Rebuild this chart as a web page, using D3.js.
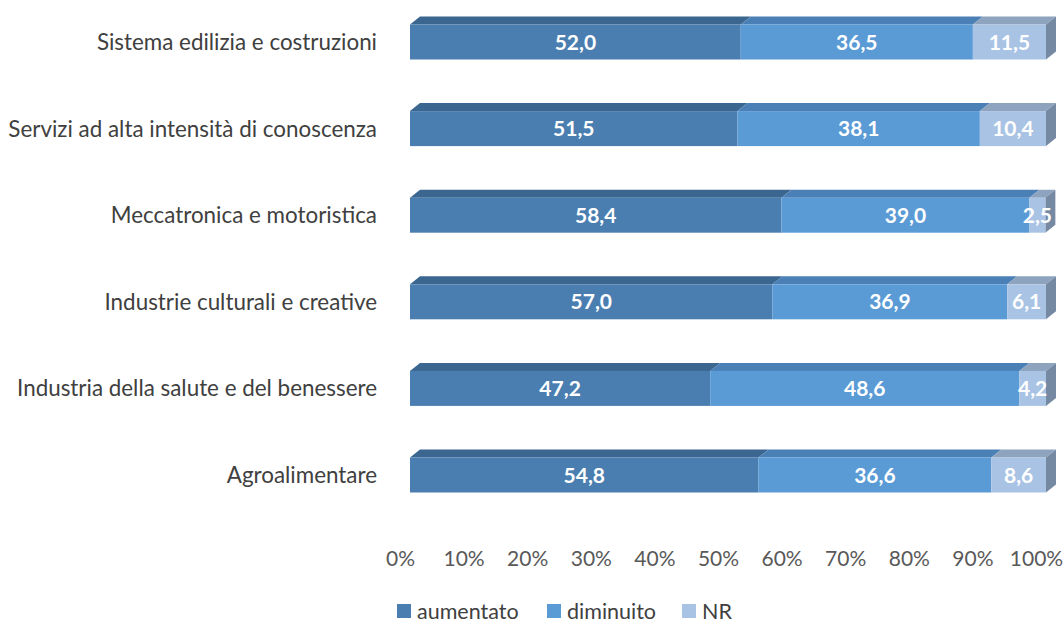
<!DOCTYPE html>
<html>
<head>
<meta charset="utf-8">
<script src="https://cdn.jsdelivr.net/npm/d3@7"></script>
<style>
  html, body { margin: 0; padding: 0; background: #ffffff; }
  svg { display: block; }
</style>
</head>
<body>
<svg id="chart" width="1064" height="624"></svg>
<script>
// Sectors, top to bottom
const categories = [
  "Sistema edilizia e costruzioni",
  "Servizi ad alta intensità di conoscenza",
  "Meccatronica e motoristica",
  "Industrie culturali e creative",
  "Industria della salute e del benessere",
  "Agroalimentare"
];
const seriesNames = ["aumentato", "diminuito", "NR"];
const aumentato = [52.0, 51.5, 58.4, 57.0, 47.2, 54.8];
const diminuito = [36.5, 38.1, 39.0, 36.9, 48.6, 36.6];
const nr        = [11.5, 10.4, 2.5, 6.1, 4.2, 8.6];
const tickValues = [0, 10, 20, 30, 40, 50, 60, 70, 80, 90, 100];

const frontColors = ["#4a7eb1", "#5a9ad5", "#a9c3e5"];
const topColors   = ["#3b6690", "#4b80b6", "#8ea3be"];
const sideColor   = "#7689a2";

const svg = d3.select("#chart");
const fontFam = "Lato, 'Open Sans', sans-serif";

const x = d3.scaleLinear().domain([0, 100]).range([410, 1046]);
const y = d3.scalePoint().domain(categories).range([42, 475]);
const barH = 35;
const dx = 10, dy = 8;

const rows = categories.map((c, i) => {
  const vals = [aumentato[i], diminuito[i], nr[i]];
  let acc = 0;
  return { cat: c, segs: vals.map((v, k) => { const s = { k, v, x0: acc, x1: acc + v }; acc += v; return s; }) };
});

const rowG = svg.selectAll("g.row").data(rows).join("g").attr("class", "row");

rowG.each(function(r) {
  const g = d3.select(this);
  const cy = y(r.cat);
  const yt = cy - barH / 2;
  const last = r.segs[r.segs.length - 1];
  // top faces
  g.selectAll("polygon.topface").data(r.segs).join("polygon")
    .attr("class", "topface")
    .attr("fill", d => topColors[d.k])
    .attr("points", d => {
      const a = x(d.x0), b = x(d.x1);
      return [[a, yt], [a + dx, yt - dy], [b + dx, yt - dy], [b, yt]].map(p => p.join(",")).join(" ");
    });
  // right side face
  const b = x(last.x1);
  g.append("polygon")
    .attr("fill", sideColor)
    .attr("points", [[b, yt], [b + dx, yt - dy], [b + dx, yt - dy + barH], [b, yt + barH]].map(p => p.join(",")).join(" "));
  // front faces
  g.selectAll("rect.front").data(r.segs).join("rect")
    .attr("class", "front")
    .attr("x", d => x(d.x0))
    .attr("y", yt)
    .attr("width", d => x(d.x1) - x(d.x0))
    .attr("height", barH)
    .attr("fill", d => frontColors[d.k]);
  // value labels
  g.selectAll("text.val").data(r.segs).join("text")
    .attr("class", "val")
    .attr("x", d => (x(d.x0) + x(d.x1)) / 2)
    .attr("y", cy)
    .attr("dy", "0.36em")
    .attr("text-anchor", "middle")
    .attr("fill", "#ffffff")
    .attr("font-family", fontFam)
    .attr("font-weight", "bold")
    .attr("font-size", 21)
    .text(d => d3.format(".1f")(d.v).replace(".", ","));
  // category label
  g.append("text")
    .attr("x", 377)
    .attr("y", cy)
    .attr("dy", "0.36em")
    .attr("text-anchor", "end")
    .attr("fill", "#404040")
    .attr("font-family", fontFam)
    .attr("font-size", 22.4)
    .text(r.cat);
});

// x axis labels
const axisG = svg.append("g").attr("transform", "translate(-10,558)");
axisG.call(d3.axisBottom(x).tickValues(tickValues).tickFormat(d => d + "%").tickSize(0).tickPadding(0));
axisG.select(".domain").remove();
axisG.selectAll("text")
  .attr("fill", "#595959")
  .attr("font-family", fontFam)
  .attr("font-size", 21)
  .attr("dy", "0.36em")
  .attr("y", 0);

// legend
const legendX = [397, 547, 682];
const lg = svg.selectAll("g.leg").data(seriesNames).join("g")
  .attr("class", "leg")
  .attr("transform", (d, i) => `translate(${legendX[i]},604)`);
lg.append("rect").attr("width", 14).attr("height", 14).attr("fill", (d, i) => frontColors[i]);
lg.append("text")
  .attr("x", 20).attr("y", 7).attr("dy", "0.36em")
  .attr("fill", "#404040")
  .attr("font-family", fontFam)
  .attr("font-size", 21.5)
  .text(d => d);
</script>
</body>
</html>
